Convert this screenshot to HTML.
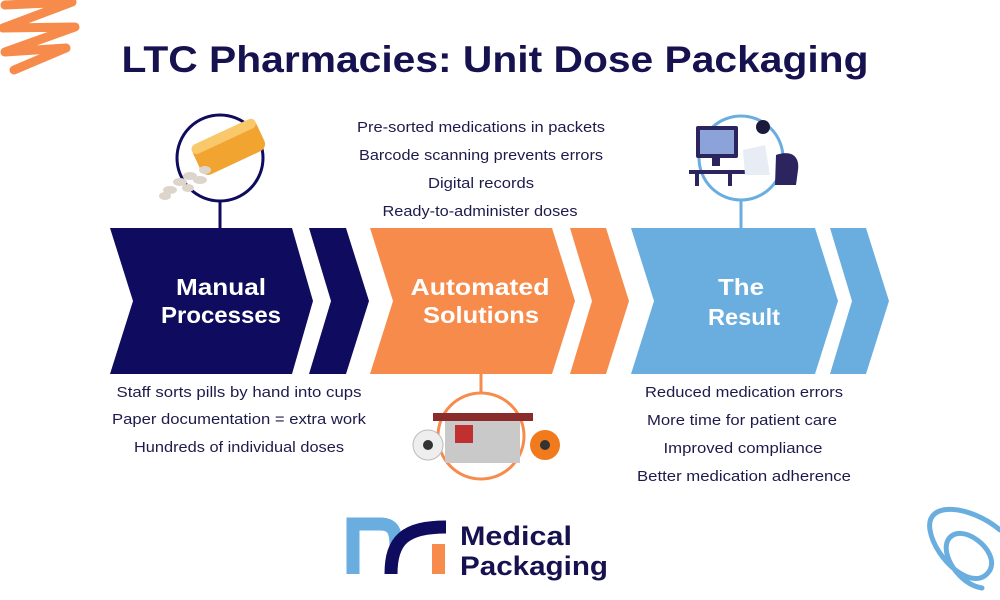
<!DOCTYPE html>
<html><head><meta charset="utf-8"><style>
html,body{margin:0;padding:0;background:#fff;}
svg{display:block;}
text{font-family:"Liberation Sans",sans-serif;}
.t{font-size:15px;fill:#1e1b4b;text-anchor:middle;}
.h{font-size:23px;font-weight:bold;fill:#fff;text-anchor:middle;}
</style></head><body>
<svg width="1000" height="600" viewBox="0 0 1000 600" xmlns="http://www.w3.org/2000/svg">
<rect width="1000" height="600" fill="#fff"/>
<path d="M5,5 L72,2 L3,28 L75,27 L5,52 L66,48 L14,70" fill="none" stroke="#f78b4b" stroke-width="9" stroke-linecap="round" stroke-linejoin="round"/>
<path d="M1000,530 C970,505 925,500 930,530 C935,560 975,595 990,570 C1000,550 960,520 948,540 C940,555 960,585 982,588" fill="none" stroke="#6aaee0" stroke-width="5" stroke-linecap="round"/>
<text x="495" y="72" font-size="37" font-weight="bold" fill="#16124f" text-anchor="middle" textLength="747" lengthAdjust="spacingAndGlyphs">LTC Pharmacies: Unit Dose Packaging</text>

<line x1="220" y1="200" x2="220" y2="228" stroke="#0f0c5f" stroke-width="3"/>
<circle cx="220" cy="158" r="43" fill="none" stroke="#0f0c5f" stroke-width="3"/>
<line x1="481" y1="374" x2="481" y2="393" stroke="#f78b4b" stroke-width="3"/>
<circle cx="481" cy="436" r="43" fill="none" stroke="#f78b4b" stroke-width="3"/>
<line x1="741" y1="200" x2="741" y2="228" stroke="#6aaee0" stroke-width="3"/>
<circle cx="741" cy="158" r="42" fill="none" stroke="#6aaee0" stroke-width="3"/>

<polygon points="110,228 292,228 313,301 292,374 110,374 133,301" fill="#0f0c5f"/>
<polygon points="309,228 346,228 369,301 346,374 309,374 331,301" fill="#0f0c5f"/>
<polygon points="370,228 552,228 575,301 552,374 370,374 393,301" fill="#f78b4b"/>
<polygon points="570,228 606,228 629,301 606,374 570,374 592,301" fill="#f78b4b"/>
<polygon points="631,228 815,228 838,301 815,374 631,374 654,301" fill="#6aaee0"/>
<polygon points="830,228 866,228 889,301 866,374 830,374 852,301" fill="#6aaee0"/>

<text class="h" x="221" y="295" textLength="90" lengthAdjust="spacingAndGlyphs">Manual</text>
<text class="h" x="221" y="323" textLength="120" lengthAdjust="spacingAndGlyphs">Processes</text>
<text class="h" x="480" y="295" textLength="139" lengthAdjust="spacingAndGlyphs">Automated</text>
<text class="h" x="481" y="323" textLength="116" lengthAdjust="spacingAndGlyphs">Solutions</text>
<text class="h" x="741" y="295" textLength="46" lengthAdjust="spacingAndGlyphs">The</text>
<text class="h" x="744" y="325" textLength="72" lengthAdjust="spacingAndGlyphs">Result</text>

<g transform="rotate(-25 230 150)">
<rect x="195" y="130" width="70" height="34" rx="8" fill="#f2a430"/>
<rect x="195" y="130" width="70" height="10" rx="5" fill="#f9c86a"/>
</g>
<g fill="#ddd5cc">
<ellipse cx="170" cy="190" rx="7" ry="4"/><ellipse cx="180" cy="182" rx="7" ry="4"/>
<ellipse cx="190" cy="176" rx="7" ry="4"/><ellipse cx="200" cy="180" rx="7" ry="4"/>
<ellipse cx="165" cy="196" rx="6" ry="4"/><ellipse cx="188" cy="188" rx="6" ry="4"/>
<ellipse cx="205" cy="170" rx="6" ry="4"/>
</g>

<rect x="696" y="126" width="42" height="32" rx="2" fill="#2b245f"/>
<rect x="700" y="130" width="34" height="24" fill="#8ba3d8"/>
<rect x="712" y="158" width="8" height="8" fill="#2b245f"/>
<rect x="689" y="170" width="70" height="4" fill="#2b245f"/>
<rect x="695" y="174" width="4" height="12" fill="#2b245f"/>
<rect x="728" y="174" width="4" height="12" fill="#2b245f"/>
<path d="M743,150 L765,145 L770,175 L745,175 Z" fill="#e8ecf5"/>
<circle cx="763" cy="127" r="7" fill="#1b1a3a"/>
<path d="M776,155 C790,150 800,155 798,170 L796,185 L775,185 Z" fill="#2b245f"/>

<rect x="433" y="413" width="100" height="8" fill="#8a2c2c"/>
<rect x="445" y="421" width="75" height="42" fill="#c9c9c9"/>
<rect x="455" y="425" width="18" height="18" fill="#c03030"/>
<circle cx="428" cy="445" r="15" fill="#eee" stroke="#bbb"/>
<circle cx="428" cy="445" r="5" fill="#333"/>
<circle cx="545" cy="445" r="15" fill="#f07a1c"/>
<circle cx="545" cy="445" r="5" fill="#333"/>

<text class="t" x="481" y="132" textLength="248" lengthAdjust="spacingAndGlyphs">Pre-sorted medications in packets</text>
<text class="t" x="481" y="160" textLength="244" lengthAdjust="spacingAndGlyphs">Barcode scanning prevents errors</text>
<text class="t" x="481" y="188" textLength="106" lengthAdjust="spacingAndGlyphs">Digital records</text>
<text class="t" x="480" y="216" textLength="195" lengthAdjust="spacingAndGlyphs">Ready-to-administer doses</text>

<text class="t" x="239" y="397" textLength="245" lengthAdjust="spacingAndGlyphs">Staff sorts pills by hand into cups</text>
<text class="t" x="239" y="424" textLength="254" lengthAdjust="spacingAndGlyphs">Paper documentation = extra work</text>
<text class="t" x="239" y="452" textLength="210" lengthAdjust="spacingAndGlyphs">Hundreds of individual doses</text>

<text class="t" x="744" y="397" textLength="198" lengthAdjust="spacingAndGlyphs">Reduced medication errors</text>
<text class="t" x="742" y="425" textLength="190" lengthAdjust="spacingAndGlyphs">More time for patient care</text>
<text class="t" x="743" y="453" textLength="159" lengthAdjust="spacingAndGlyphs">Improved compliance</text>
<text class="t" x="744" y="481" textLength="214" lengthAdjust="spacingAndGlyphs">Better medication adherence</text>

<path d="M353,574 L353,524 L380,524 C392,524 396,530 396,545" fill="none" stroke="#6aaee0" stroke-width="13"/>
<path d="M391,574 C391,540 405,527 446,527" fill="none" stroke="#0f0c5f" stroke-width="13"/>
<rect x="432" y="544" width="13" height="30" fill="#f78b4b"/>
<text x="460" y="545" font-size="27" font-weight="bold" fill="#16124f" textLength="112" lengthAdjust="spacingAndGlyphs">Medical</text>
<text x="460" y="575" font-size="27" font-weight="bold" fill="#16124f" textLength="148" lengthAdjust="spacingAndGlyphs">Packaging</text>
</svg>
</body></html>
